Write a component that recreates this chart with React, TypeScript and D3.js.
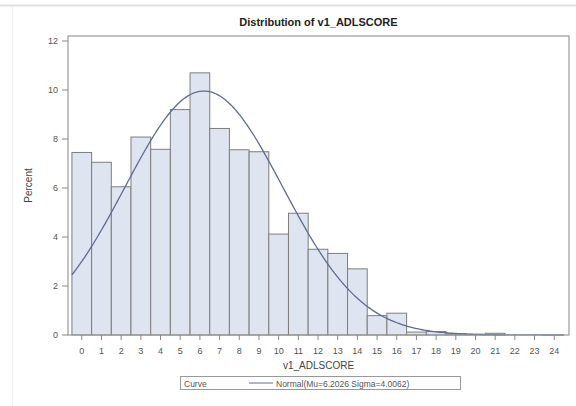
import React from "react";
import * as d3 from "d3";

const categories = [0,1,2,3,4,5,6,7,8,9,10,11,12,13,14,15,16,17,18,19,20,21,22,23,24];
const percents = [7.45,7.05,6.05,8.08,7.58,9.2,10.7,8.43,7.56,7.48,4.12,4.97,3.5,3.33,2.7,0.79,0.89,0.12,0.14,0.05,0.03,0.07,0,0,0];
const yTicks = [0,2,4,6,8,10,12];
const mu = 6.2026;
const sigma = 4.0062;
const title = "Distribution of v1_ADLSCORE";
const xLabel = "v1_ADLSCORE";
const yLabel = "Percent";
const legendTitle = "Curve";
const legendLabel = "Normal(Mu=6.2026 Sigma=4.0062)";

const W = 576, H = 406;
const left = 68, right = 569, top = 36, bottom = 335;

export default function App() {
  const x = d3.scaleLinear().domain([-0.7, 24.75]).range([left, right]);
  const y = d3.scaleLinear().domain([0, 12]).range([bottom, 41]);
  const pdfPct = (v: number) => 100 * Math.exp(-0.5 * ((v - mu) / sigma) ** 2) / (sigma * Math.sqrt(2 * Math.PI));
  const curvePts = d3.range(-0.5, 24.5001, 0.1).map((v) => [v, pdfPct(v)] as [number, number]);
  const line = d3.line<[number, number]>().x((d) => x(d[0])).y((d) => y(d[1])).curve(d3.curveLinear);
  const font = "Arial, 'Liberation Sans', sans-serif";
  const cx = (left + right) / 2;
  return (
    <svg width={W} height={H} style={{ position: "absolute", left: 0, top: 0, background: "#fff" }} fontFamily={font}>
      <line x1={0} y1={5.5} x2={W} y2={5.5} stroke="#e2e2e2" strokeWidth={2} />
      <line x1={12.5} y1={6} x2={12.5} y2={H} stroke="#efefef" strokeWidth={1} />
      <text x={cx} y={26} textAnchor="middle" fontSize={11} fontWeight="bold" fill="#222">{title}</text>
      {percents.map((p, i) => (
        p > 0 ? (
          <rect key={i} x={x(categories[i] - 0.5)} y={y(p)} width={x(categories[i] + 0.5) - x(categories[i] - 0.5)} height={bottom - y(p)}
            fill="#dfe5f0" stroke="#7d7d7d" strokeWidth={1} />
        ) : null
      ))}
      <path d={line(curvePts) || ""} fill="none" stroke="#5f6c92" strokeWidth={1.3} />
      <rect x={left} y={top} width={right - left} height={bottom - top} fill="none" stroke="#9a9a9a" strokeWidth={1.2} />
      {yTicks.map((t) => (
        <g key={t}>
          <line x1={left - 6} x2={left} y1={y(t)} y2={y(t)} stroke="#888" />
          <text x={left - 10} y={y(t)} dy="0.35em" textAnchor="end" fontSize={9} fill="#555">{t}</text>
        </g>
      ))}
      {categories.map((c) => (
        <g key={c}>
          <line x1={x(c)} x2={x(c)} y1={bottom} y2={bottom + 5} stroke="#888" />
          <text x={x(c)} y={bottom + 19} textAnchor="middle" fontSize={9} fill="#555">{c}</text>
        </g>
      ))}
      <text x={cx} y={369} textAnchor="middle" fontSize={10} fill="#444">{xLabel}</text>
      <text transform={`translate(32,${(top + bottom) / 2}) rotate(-90)`} textAnchor="middle" fontSize={10} fill="#444">{yLabel}</text>
      <rect x={180.5} y={376.5} width={280} height={13} fill="#fff" stroke="#999" />
      <text x={184} y={386.5} fontSize={8.5} fill="#555">{legendTitle}</text>
      <line x1={249} x2={273} y1={383} y2={383} stroke="#5f6c92" strokeWidth={1} />
      <text x={276} y={386.5} fontSize={8.5} fill="#555">{legendLabel}</text>
    </svg>
  );
}
